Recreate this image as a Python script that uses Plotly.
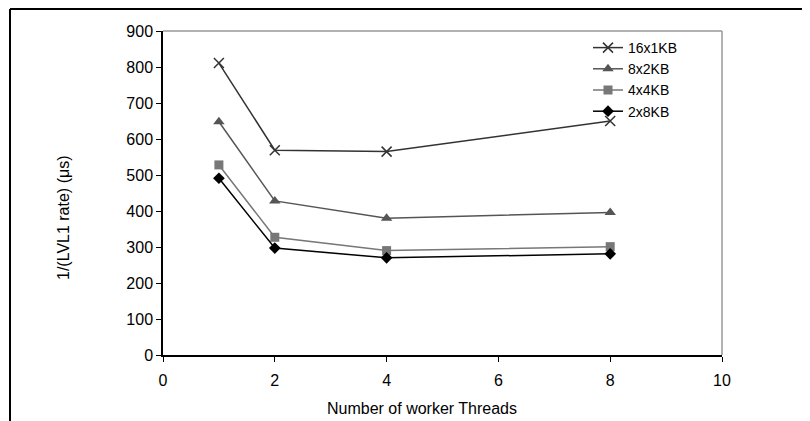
import plotly.graph_objects as go

threads = [1, 2, 4, 8]
s16x1 = [811, 569, 565, 650]
s8x2 = [648, 428, 380, 396]
s4x4 = [528, 327, 290, 301]
s2x8 = [491, 297, 270, 281]
series_names = ["16x1KB", "8x2KB", "4x4KB", "2x8KB"]

FONT = "Liberation Sans, Arial, sans-serif"

# page has an 8px body margin: figure px = page px - 8
OFF = 8
W, H = 810 - OFF, 421 - OFF
L, R, T, B = 163 - OFF, 722 - OFF, 31 - OFF, 355 - OFF

def px2x(p):
    return (p - OFF - L) / (R - L)

def px2y(p):
    return (B - (p - OFF)) / (B - T)

fig = go.Figure()
styles = [
    (s16x1, "#333333", "x-thin", 10, 1.5),
    (s8x2, "#555555", "triangle-up", 10, 0),
    (s4x4, "#777777", "square", 9, 0),
    (s2x8, "#000000", "diamond", 9, 0),
]
for name, (vals, col, sym, sz, lw) in zip(series_names, styles):
    fig.add_trace(go.Scatter(
        x=threads, y=vals, name=name, mode="lines+markers",
        line=dict(color=col, width=1.5),
        marker=dict(symbol=sym, size=sz, color=col, line=dict(color=col, width=lw)),
    ))

fig.update_layout(
    width=W, height=H,
    margin=dict(l=L, r=W - R, t=T, b=H - B, autoexpand=False),
    plot_bgcolor="white", paper_bgcolor="white",
    font=dict(family=FONT, size=16, color="#000000"),
    showlegend=True,
    legend=dict(x=px2x(588), y=px2y(32), xanchor="left", yanchor="top",
                bgcolor="rgba(0,0,0,0)", font=dict(size=14),
                tracegroupgap=0, itemwidth=30),
    xaxis=dict(range=[0, 10], tickvals=[0, 2, 4, 6, 8, 10], showgrid=False,
               zeroline=False, showline=True, linecolor="#000000", linewidth=1.5,
               ticks="outside", ticklen=5, tickcolor="#000000",
               ticklabelstandoff=5),
    yaxis=dict(range=[0, 900], tickvals=list(range(0, 901, 100)), showgrid=False,
               zeroline=False, showline=True, linecolor="#000000", linewidth=1.5,
               ticks="outside", ticklen=5, tickcolor="#000000"),
    annotations=[
        dict(text="Number of worker Threads", xref="paper", yref="paper",
             x=px2x(422), y=px2y(408), showarrow=False, xanchor="center",
             yanchor="middle", font=dict(size=16)),
        dict(text="1/(LVL1 rate) (μs)", xref="paper", yref="paper",
             x=px2x(63), y=px2y(218), showarrow=False, textangle=-90,
             xanchor="center", yanchor="middle", font=dict(size=16)),
    ],
    shapes=[
        dict(type="line", xref="paper", yref="paper", x0=0, x1=1, y0=1, y1=1,
             line=dict(color="#999999", width=1.5)),
        dict(type="line", xref="paper", yref="paper", x0=1, x1=1, y0=0, y1=1,
             line=dict(color="#999999", width=1.5)),
        dict(type="line", xref="paper", yref="paper", x0=px2x(10), x1=px2x(818),
             y0=px2y(9), y1=px2y(9), line=dict(color="#000000", width=2)),
        dict(type="line", xref="paper", yref="paper", x0=px2x(10), x1=px2x(10),
             y0=px2y(9), y1=px2y(430), line=dict(color="#000000", width=2)),
    ],
)

fig.write_html("out.html")
